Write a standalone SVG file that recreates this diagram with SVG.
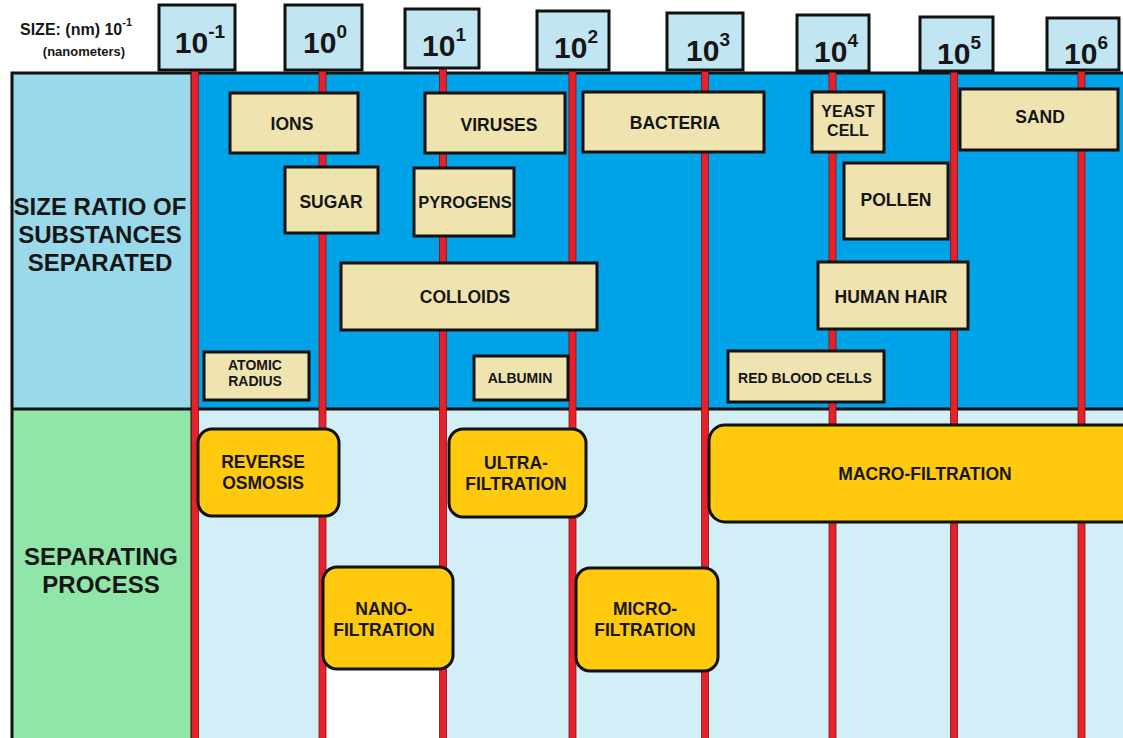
<svg xmlns="http://www.w3.org/2000/svg" width="1123" height="738" viewBox="0 0 1123 738">
<style>
text{font-family:"Liberation Sans",Arial,sans-serif;font-weight:bold;fill:#161616;text-anchor:middle}
.tick rect{fill:#c2e6f1;stroke:#111;stroke-width:3}
.tick text{font-size:30px}
.sub rect{fill:#efe4b0;stroke:#111;stroke-width:3}
.sub text{font-size:17.5px}
.sub text.s{font-size:14px}
.proc rect{fill:#ffc90e;stroke:#111;stroke-width:3}
.proc text{font-size:17.5px}
.side{font-size:24px}
.rl{fill:#e8202a;stroke:#7a1414;stroke-width:0.8}
</style>
<rect width="1123" height="738" fill="#fff"/>
<g id="background">
<rect x="12" y="73" width="180" height="336" fill="#9ad9ea"/>
<rect x="192" y="73" width="940" height="336" fill="#00a2e8"/>
<rect x="12" y="409" width="180" height="340" fill="#8fe6a8"/>
<rect x="192" y="409" width="940" height="340" fill="#d2eef6"/>
<rect x="326" y="669" width="115" height="80" fill="#fff"/>
<rect x="12" y="73" width="1120" height="680" fill="none" stroke="#111" stroke-width="3"/>
<line x1="12" y1="409" x2="1123" y2="409" stroke="#111" stroke-width="3"/>
<line x1="192" y1="73" x2="192" y2="738" stroke="#111" stroke-width="3"/>
</g>
<g id="header">
<text x="20" y="35" style="text-anchor:start;font-size:16px">SIZE: (nm) 10<tspan dy="-9" font-size="11px">-1</tspan></text>
<text x="84" y="56" style="font-size:13px">(nanometers)</text>
<text class="side" x="100" y="215">SIZE RATIO OF</text>
<text class="side" x="100" y="243">SUBSTANCES</text>
<text class="side" x="100" y="271">SEPARATED</text>
<text class="side" x="101" y="565">SEPARATING</text>
<text class="side" x="101" y="593">PROCESS</text>
</g>
<g id="connectors">
<rect class="rl" x="191.5" y="69" width="7" height="680"/>
<rect class="rl" x="319" y="69" width="7" height="680"/>
<rect class="rl" x="439.5" y="67" width="7" height="680"/>
<rect class="rl" x="569" y="69" width="7" height="680"/>
<rect class="rl" x="701.5" y="69" width="7" height="680"/>
<rect class="rl" x="829" y="70" width="7" height="680"/>
<rect class="rl" x="950.5" y="70" width="7" height="680"/>
<rect class="rl" x="1078" y="69" width="7" height="680"/>
</g>
<g id="tick-m1" class="tick"><rect x="159" y="5" width="76" height="65"/><text x="200" y="53">10<tspan dy="-15" font-size="19px">-1</tspan></text></g>
<g id="tick-0" class="tick"><rect x="285" y="5" width="77" height="65"/><text x="325" y="53">10<tspan dy="-15" font-size="19px">0</tspan></text></g>
<g id="tick-1" class="tick"><rect x="405" y="9" width="74" height="59"/><text x="444" y="56">10<tspan dy="-15" font-size="19px">1</tspan></text></g>
<g id="tick-2" class="tick"><rect x="537" y="11" width="72" height="59"/><text x="576" y="58">10<tspan dy="-15" font-size="19px">2</tspan></text></g>
<g id="tick-3" class="tick"><rect x="667" y="13" width="76" height="57"/><text x="708" y="61">10<tspan dy="-15" font-size="19px">3</tspan></text></g>
<g id="tick-4" class="tick"><rect x="797" y="15" width="72" height="56"/><text x="836" y="62">10<tspan dy="-15" font-size="19px">4</tspan></text></g>
<g id="tick-5" class="tick"><rect x="920" y="17" width="73" height="54"/><text x="959" y="64">10<tspan dy="-15" font-size="19px">5</tspan></text></g>
<g id="tick-6" class="tick"><rect x="1047" y="18" width="72" height="52"/><text x="1086" y="64">10<tspan dy="-15" font-size="19px">6</tspan></text></g>
<g id="ions" class="sub"><rect x="230" y="93" width="128" height="60"/><text x="292" y="130">IONS</text></g>
<g id="viruses" class="sub"><rect x="425" y="93" width="140" height="60"/><text x="499" y="131">VIRUSES</text></g>
<g id="bacteria" class="sub"><rect x="583" y="92" width="181" height="60"/><text x="675" y="129">BACTERIA</text></g>
<g id="yeast-cell" class="sub"><rect x="812" y="92" width="72" height="60"/><text x="848" y="117" style="font-size:16px">YEAST</text><text x="848" y="136" style="font-size:16px">CELL</text></g>
<g id="sand" class="sub"><rect x="960" y="89" width="158" height="61"/><text x="1040" y="123">SAND</text></g>
<g id="sugar" class="sub"><rect x="285" y="167" width="93" height="66"/><text x="331" y="208">SUGAR</text></g>
<g id="pyrogens" class="sub"><rect x="414" y="168" width="100" height="68"/><text x="465" y="208" style="font-size:16.5px">PYROGENS</text></g>
<g id="pollen" class="sub"><rect x="844" y="163" width="104" height="76"/><text x="896" y="206">POLLEN</text></g>
<g id="colloids" class="sub"><rect x="341" y="263" width="256" height="67"/><text x="465" y="303">COLLOIDS</text></g>
<g id="human-hair" class="sub"><rect x="818" y="262" width="150" height="67"/><text x="891" y="303">HUMAN HAIR</text></g>
<g id="atomic-radius" class="sub"><rect x="204" y="352" width="105" height="48"/><text class="s" x="255" y="370">ATOMIC</text><text class="s" x="255" y="386">RADIUS</text></g>
<g id="albumin" class="sub"><rect x="474" y="356" width="94" height="44"/><text class="s" x="520" y="383">ALBUMIN</text></g>
<g id="red-blood-cells" class="sub"><rect x="728" y="351" width="156" height="51"/><text class="s" x="805" y="383">RED BLOOD CELLS</text></g>
<g id="reverse-osmosis" class="proc"><rect x="198" y="429" width="141" height="87" rx="14"/><text x="263" y="468">REVERSE</text><text x="263" y="489">OSMOSIS</text></g>
<g id="ultra-filtration" class="proc"><rect x="449" y="429" width="137" height="88" rx="14"/><text x="516" y="469">ULTRA-</text><text x="516" y="490">FILTRATION</text></g>
<g id="macro-filtration" class="proc"><rect x="709" y="425" width="430" height="97" rx="16"/><text x="925" y="480">MACRO-FILTRATION</text></g>
<g id="nano-filtration" class="proc"><rect x="323" y="567" width="130" height="102" rx="14"/><text x="384" y="615">NANO-</text><text x="384" y="636">FILTRATION</text></g>
<g id="micro-filtration" class="proc"><rect x="576" y="568" width="142" height="103" rx="14"/><text x="645" y="615">MICRO-</text><text x="645" y="636">FILTRATION</text></g>
</svg>
